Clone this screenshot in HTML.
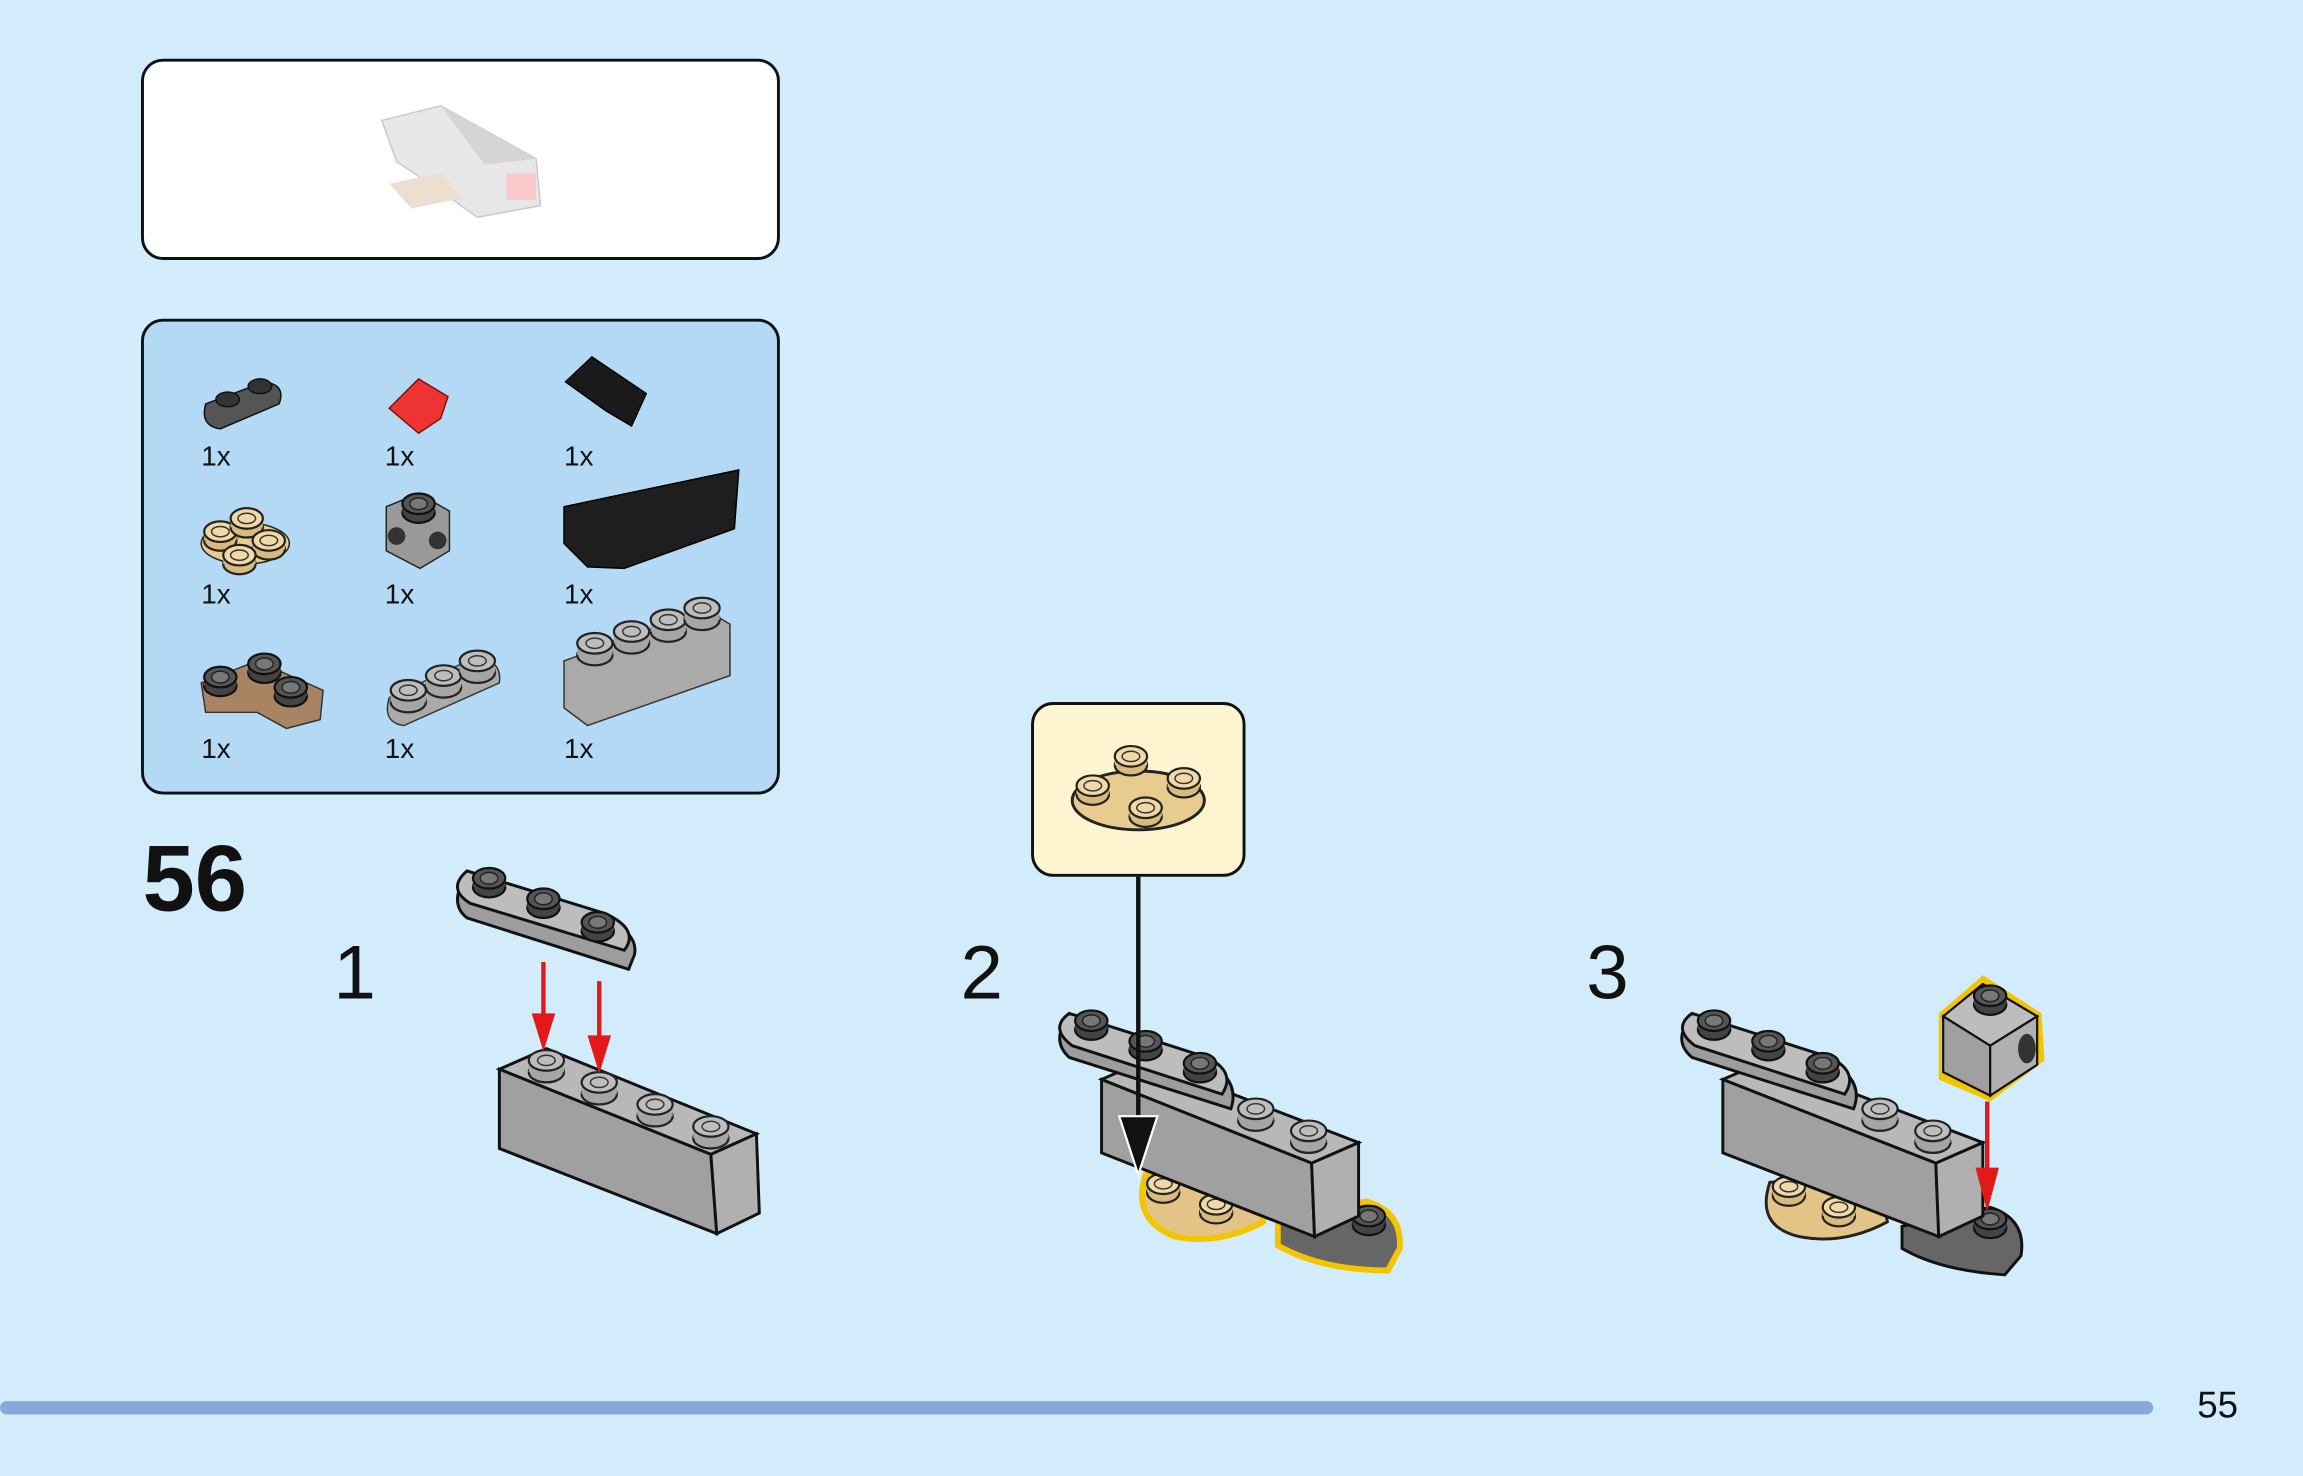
<!DOCTYPE html>
<html><head><meta charset="utf-8"><style>
html,body{margin:0;padding:0;background:#d3ecfc;}
svg{display:block}
text{font-family:"Liberation Sans",sans-serif;fill:#111}
</style></head><body>
<svg width="2303" height="1476" viewBox="0 0 1568 1005" preserveAspectRatio="none" xmlns="http://www.w3.org/2000/svg">
<defs>
<g id="stud"><ellipse cx="0" cy="6" rx="11" ry="7" fill="#444" stroke="#111" stroke-width="1.5"/><rect x="-11" y="0" width="22" height="6" fill="#444"/><ellipse cx="0" cy="0" rx="11" ry="7" fill="#555" stroke="#111" stroke-width="1.5"/><ellipse cx="0" cy="0" rx="6" ry="4" fill="#777" stroke="#222"/></g>
<g id="gstud"><ellipse cx="0" cy="8" rx="12" ry="7" fill="#a5a5a5" stroke="#222" stroke-width="1.5"/><rect x="-12" y="0" width="24" height="8" fill="#a5a5a5"/><ellipse cx="0" cy="0" rx="12" ry="7" fill="#bdbdbd" stroke="#222" stroke-width="1.5"/><ellipse cx="0" cy="0" rx="6" ry="3.5" fill="none" stroke="#333"/></g>
<g id="tstud"><ellipse cx="0" cy="6" rx="11" ry="7" fill="#d9b97d" stroke="#222" stroke-width="1.5"/><rect x="-11" y="0" width="22" height="6" fill="#d9b97d"/><ellipse cx="0" cy="0" rx="11" ry="7" fill="#f0d9a6" stroke="#222" stroke-width="1.5"/><ellipse cx="0" cy="0" rx="6" ry="3.5" fill="none" stroke="#333"/></g>
</defs>
<rect width="1568" height="1005" fill="#d3ecfc"/>
<!-- preview box -->
<rect x="97" y="41" width="433" height="135" rx="14" fill="#fff" stroke="#111" stroke-width="2"/>
<g opacity="0.35">
<polygon points="260,82 300,72 365,108 368,140 325,148 300,130 270,110" fill="#bbb" stroke="#666"/>
<polygon points="300,72 365,108 330,112" fill="#888"/>
<rect x="345" y="118" width="20" height="18" fill="#e66"/>
<polygon points="265,125 300,118 315,135 280,142" fill="#c9a57a"/>
</g>
<!-- parts box -->
<rect x="97" y="218" width="433" height="322" rx="14" fill="#b3d9f5" stroke="#111" stroke-width="2"/>
<g font-size="19">
<text x="137" y="317">1x</text><text x="262" y="317">1x</text><text x="384" y="317">1x</text>
<text x="137" y="411">1x</text><text x="262" y="411">1x</text><text x="384" y="411">1x</text>
<text x="137" y="516">1x</text><text x="262" y="516">1x</text><text x="384" y="516">1x</text>
</g>
<!-- parts icons -->
<path d="M140,275 L180,260 Q195,262 190,275 L150,292 Q136,290 140,275Z" fill="#555" stroke="#111"/>
<ellipse cx="155" cy="272" rx="8" ry="5" fill="#333" stroke="#111"/><ellipse cx="177" cy="263" rx="8" ry="5" fill="#333" stroke="#111"/>
<polygon points="265,278 285,258 305,270 300,285 285,295" fill="#e33" stroke="#711"/>
<polygon points="385,260 403,243 440,268 430,290 413,280" fill="#1a1a1a" stroke="#000"/>
<ellipse cx="167" cy="370" rx="30" ry="14" fill="#e8cc8f" stroke="#222"/>
<use href="#tstud" x="150" y="362"/><use href="#tstud" x="168" y="353"/><use href="#tstud" x="183" y="368"/><use href="#tstud" x="163" y="378"/>
<polygon points="263,345 285,336 306,348 306,375 286,387 263,375" fill="#999" stroke="#222"/>
<use href="#stud" x="285" y="343"/><circle cx="270" cy="365" r="6" fill="#333"/><circle cx="298" cy="368" r="6" fill="#333"/>
<polygon points="384,345 503,320 500,360 425,387 400,386 384,370" fill="#1e1e1e" stroke="#000"/>
<polygon points="137,465 175,450 220,470 218,490 195,496 175,485 140,485" fill="#a88462" stroke="#333"/>
<use href="#stud" x="150" y="461"/><use href="#stud" x="180" y="452"/><use href="#stud" x="198" y="468"/>
<path d="M265,475 L325,447 Q342,450 340,465 L275,494 Q260,492 265,475Z" fill="#aaa" stroke="#333"/>
<use href="#gstud" x="278" y="470"/><use href="#gstud" x="302" y="460"/><use href="#gstud" x="325" y="450"/>
<polygon points="384,450 480,415 497,425 497,460 400,494 384,482" fill="#aaa" stroke="#333"/>
<use href="#gstud" x="405" y="438"/><use href="#gstud" x="430" y="430"/><use href="#gstud" x="455" y="422"/><use href="#gstud" x="478" y="414"/>
<!-- step numbers -->
<text x="97" y="620" font-size="64" font-weight="bold">56</text>
<text x="227" y="680" font-size="52">1</text>
<text x="654" y="680" font-size="52">2</text>
<text x="1080" y="680" font-size="52">3</text>
<!-- step 1 -->
<polygon points="340,728 372,714 515,772 484,786" fill="#b8b8b8" stroke="#111" stroke-width="2"/>
<polygon points="340,728 484,786 488,840 340,782" fill="#a0a0a0" stroke="#111" stroke-width="2"/>
<polygon points="484,786 515,772 517,826 488,840" fill="#b0b0b0" stroke="#111" stroke-width="2"/>
<use href="#gstud" x="372" y="722"/><use href="#gstud" x="408" y="737"/><use href="#gstud" x="446" y="752"/><use href="#gstud" x="484" y="767"/>
<path d="M318,595 L410,625 Q435,635 432,650 L428,660 L318,625 Q305,615 318,595Z" fill="#9d9d9d" stroke="#111" stroke-width="2"/>
<path d="M318,593 L412,622 Q436,633 425,647 L320,615 Q304,605 318,593Z" fill="#bdbdbd" stroke="#111" stroke-width="2"/>
<use href="#stud" x="333" y="598"/><use href="#stud" x="370" y="612"/><use href="#stud" x="407" y="628"/>
<g stroke="#e31818" stroke-width="3" fill="#e31818"><line x1="370" y1="655" x2="370" y2="700"/><polygon points="362,690 378,690 370,716" stroke="none"/><line x1="408" y1="668" x2="408" y2="715"/><polygon points="400,705 416,705 408,731" stroke="none"/></g>
<!-- step 2 -->
<path d="M780,800 Q770,830 800,842 Q830,848 860,832 L855,800Z" fill="#e3c486" stroke="#f3c400" stroke-width="4"/>
<use href="#tstud" x="792" y="806"/><use href="#tstud" x="828" y="820"/>
<path d="M870,830 L930,818 Q955,825 953,850 L945,865 Q900,865 870,848Z" fill="#666" stroke="#f3c400" stroke-width="4"/>
<use href="#stud" x="932" y="828"/>
<polygon points="750,735 780,722 925,778 893,792" fill="#b8b8b8" stroke="#111" stroke-width="2"/>
<polygon points="750,735 893,792 895,842 750,785" fill="#a0a0a0" stroke="#111" stroke-width="2"/>
<polygon points="893,792 925,778 925,828 895,842" fill="#b0b0b0" stroke="#111" stroke-width="2"/>
<use href="#gstud" x="855" y="755"/><use href="#gstud" x="891" y="770"/>
<path d="M728,692 L820,722 Q845,735 838,755 L728,720 Q715,708 728,692Z" fill="#9d9d9d" stroke="#111" stroke-width="2"/>
<path d="M728,690 L822,720 Q842,730 832,745 L730,712 Q714,700 728,690Z" fill="#bdbdbd" stroke="#111" stroke-width="2"/>
<use href="#stud" x="743" y="695"/><use href="#stud" x="780" y="709"/><use href="#stud" x="817" y="724"/>
<rect x="703" y="479" width="144" height="117" rx="14" fill="#fdf4d0" stroke="#111" stroke-width="2"/>
<ellipse cx="775" cy="545" rx="45" ry="20" fill="#e8cc8f" stroke="#222" stroke-width="2"/>
<use href="#tstud" x="770" y="515"/><use href="#tstud" x="744" y="535"/><use href="#tstud" x="806" y="530"/><use href="#tstud" x="780" y="550"/>
<line x1="775" y1="597" x2="775" y2="770" stroke="#111" stroke-width="3"/>
<polygon points="762,760 788,760 775,800" fill="#111" stroke="#fff" stroke-width="1.5"/>
<!-- step 3 -->
<path d="M1205,805 Q1195,835 1225,842 Q1255,848 1285,832 L1280,800Z" fill="#e3c486" stroke="#222" stroke-width="2"/>
<use href="#tstud" x="1218" y="808"/><use href="#tstud" x="1252" y="822"/>
<path d="M1295,835 L1355,822 Q1380,830 1376,855 L1365,868 Q1320,865 1295,850Z" fill="#666" stroke="#111" stroke-width="2"/>
<use href="#stud" x="1355" y="830"/>
<polygon points="1173,735 1203,722 1350,778 1318,792" fill="#b8b8b8" stroke="#111" stroke-width="2"/>
<polygon points="1173,735 1318,792 1320,842 1173,785" fill="#a0a0a0" stroke="#111" stroke-width="2"/>
<polygon points="1318,792 1350,778 1350,828 1320,842" fill="#b0b0b0" stroke="#111" stroke-width="2"/>
<use href="#gstud" x="1280" y="755"/><use href="#gstud" x="1316" y="770"/>
<path d="M1152,692 L1244,722 Q1270,735 1262,755 L1152,720 Q1138,708 1152,692Z" fill="#9d9d9d" stroke="#111" stroke-width="2"/>
<path d="M1152,690 L1246,720 Q1266,730 1256,745 L1154,712 Q1138,700 1152,690Z" fill="#bdbdbd" stroke="#111" stroke-width="2"/>
<use href="#stud" x="1167" y="695"/><use href="#stud" x="1204" y="709"/><use href="#stud" x="1241" y="724"/>
<polygon points="1320,690 1350,664 1390,690 1392,722 1355,750 1320,735" fill="#f3c400"/>
<polygon points="1323,692 1350,670 1387,692 1355,712" fill="#bdbdbd" stroke="#111" stroke-width="1.5"/>
<polygon points="1323,692 1355,712 1355,746 1323,730" fill="#a0a0a0" stroke="#111" stroke-width="1.5"/>
<polygon points="1355,712 1387,692 1387,725 1355,746" fill="#b0b0b0" stroke="#111" stroke-width="1.5"/>
<use href="#stud" x="1355" y="678"/><ellipse cx="1380" cy="714" rx="6" ry="10" fill="#333"/>
<line x1="1353" y1="750" x2="1353" y2="805" stroke="#e31818" stroke-width="3"/>
<polygon points="1345,795 1361,795 1353,825" fill="#e31818"/>
<!-- footer -->
<rect x="0" y="954" width="1466" height="9" rx="4.5" fill="#86a8da"/>
<text x="1496" y="965" font-size="25">55</text>
</svg>
</body></html>
